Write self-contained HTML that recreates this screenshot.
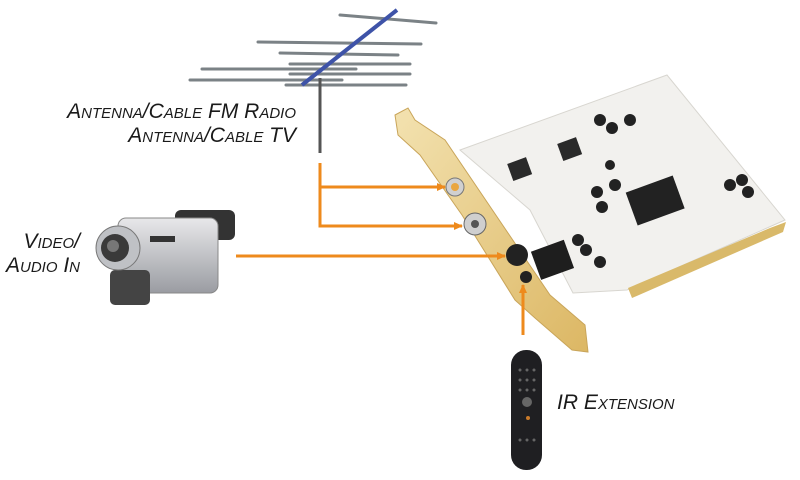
<!DOCTYPE html>
<html><head><meta charset="utf-8"><style>
html,body{margin:0;padding:0;background:#fff;}
svg{display:block}
.t{font-family:"Liberation Sans",sans-serif;font-style:italic;font-variant:small-caps;fill:#1a1a1a;font-size:21px;}
</style></head><body>
<svg width="800" height="480" viewBox="0 0 800 480">
<defs>
<marker id="ah" markerWidth="9" markerHeight="8" refX="8" refY="4" orient="auto" markerUnits="userSpaceOnUse"><path d="M0,0 L9,4 L0,8 Z" fill="#ee8a1c"/></marker>
<linearGradient id="gold" x1="0" y1="0" x2="1" y2="1"><stop offset="0" stop-color="#f3e2b0"/><stop offset="1" stop-color="#dcb764"/></linearGradient>
<linearGradient id="cam" x1="0" y1="0" x2="0" y2="1"><stop offset="0" stop-color="#e8e8ea"/><stop offset="1" stop-color="#9a9ca2"/></linearGradient>
</defs>
<g stroke="#7b8286" stroke-width="3" stroke-linecap="round">
<line x1="340" y1="15" x2="436" y2="23"/>
<line x1="258" y1="42" x2="421" y2="44"/>
<line x1="280" y1="53" x2="398" y2="55"/>
<line x1="290" y1="64" x2="410" y2="64"/>
<line x1="202" y1="69" x2="356" y2="69"/>
<line x1="290" y1="74" x2="410" y2="74"/>
<line x1="190" y1="80" x2="342" y2="80"/>
<line x1="286" y1="85" x2="406" y2="85"/>
</g>
<line x1="302" y1="85" x2="397" y2="10" stroke="#3e53a8" stroke-width="4"/>
<line x1="320" y1="78" x2="320" y2="153" stroke="#555" stroke-width="3"/>
<polygon points="460,150 667,75 785,220 627,290 573,293 530,210" fill="#f2f1ee" stroke="#d8d6d0"/>
<polygon points="628,288 770,228 786,222 783,232 632,298" fill="#d9b96a"/>
<rect x="630" y="183" width="50" height="35" fill="#222" transform="rotate(-20 655 200)"/>
<rect x="510" y="160" width="20" height="18" fill="#2a2a2a" transform="rotate(-20 520 170)"/>
<rect x="560" y="140" width="20" height="18" fill="#2a2a2a" transform="rotate(-20 570 150)"/>
<g fill="#222">
<circle cx="600" cy="120" r="6"/><circle cx="612" cy="128" r="6"/><circle cx="630" cy="120" r="6"/>
<circle cx="610" cy="165" r="5"/><circle cx="615" cy="185" r="6"/><circle cx="597" cy="192" r="6"/><circle cx="602" cy="207" r="6"/>
<circle cx="730" cy="185" r="6"/><circle cx="742" cy="180" r="6"/><circle cx="748" cy="192" r="6"/>
<circle cx="578" cy="240" r="6"/><circle cx="586" cy="250" r="6"/><circle cx="600" cy="262" r="6"/>
</g>
<rect x="535" y="245" width="35" height="30" fill="#1e1e1e" transform="rotate(-20 552 260)"/>
<polygon points="395,115 408,108 415,120 445,140 550,295 585,325 588,352 572,350 535,318 515,300 462,215 420,155 398,135" fill="url(#gold)" stroke="#c9a55a"/>
<circle cx="455" cy="187" r="9" fill="#d0d0d0" stroke="#777"/><circle cx="455" cy="187" r="4" fill="#e9a640"/>
<circle cx="475" cy="224" r="11" fill="#cfcfcf" stroke="#666"/><circle cx="475" cy="224" r="4" fill="#555"/>
<circle cx="517" cy="255" r="11" fill="#222"/><circle cx="526" cy="277" r="6" fill="#222"/>
<g stroke="#ee8a1c" stroke-width="3" fill="none">
<polyline points="320,163 320,226 462,226" marker-end="url(#ah)"/>
<line x1="320" y1="187" x2="445" y2="187" marker-end="url(#ah)"/>
<line x1="236" y1="256" x2="505" y2="256" marker-end="url(#ah)"/>
<line x1="523" y1="335" x2="523" y2="285" marker-end="url(#ah)"/>
</g>
<g>
<rect x="175" y="210" width="60" height="30" rx="6" fill="#333"/>
<rect x="118" y="218" width="100" height="75" rx="8" fill="url(#cam)" stroke="#888"/>
<rect x="110" y="270" width="40" height="35" rx="5" fill="#444"/>
<circle cx="118" cy="248" r="22" fill="#bfc1c5" stroke="#777"/>
<circle cx="115" cy="248" r="14" fill="#3a3a3a"/>
<circle cx="113" cy="246" r="6" fill="#777"/>
<rect x="150" y="236" width="25" height="6" fill="#333"/>
</g>
<rect x="511" y="350" width="31" height="120" rx="15" fill="#1f1f22"/>
<g fill="#666">
<circle cx="520" cy="370" r="1.5"/><circle cx="527" cy="370" r="1.5"/><circle cx="534" cy="370" r="1.5"/>
<circle cx="520" cy="380" r="1.5"/><circle cx="527" cy="380" r="1.5"/><circle cx="534" cy="380" r="1.5"/>
<circle cx="520" cy="390" r="1.5"/><circle cx="527" cy="390" r="1.5"/><circle cx="534" cy="390" r="1.5"/>
<circle cx="527" cy="402" r="5"/>
<circle cx="520" cy="440" r="1.5"/><circle cx="527" cy="440" r="1.5"/><circle cx="534" cy="440" r="1.5"/>
</g>
<circle cx="528" cy="418" r="2" fill="#c97a2a"/>
<text class="t" x="296" y="118" text-anchor="end">Antenna/Cable FM Radio</text>
<text class="t" x="296" y="142" text-anchor="end">Antenna/Cable TV</text>
<text class="t" x="80" y="248" text-anchor="end">Video/</text>
<text class="t" x="80" y="272" text-anchor="end">Audio In</text>
<text class="t" x="557" y="409">IR Extension</text>
</svg>
</body></html>
